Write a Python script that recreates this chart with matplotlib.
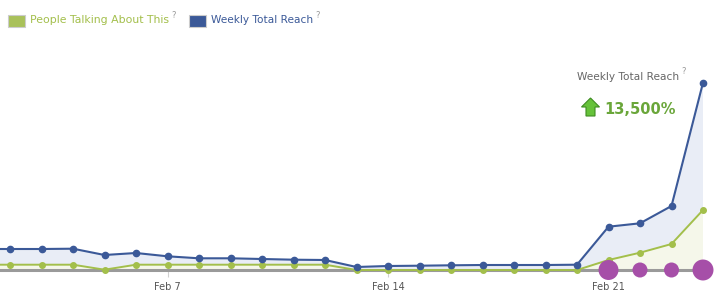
import matplotlib.pyplot as plt
from matplotlib.patches import Rectangle, Polygon

# days: index 0 = Feb 2 ... index 22 = Feb 24 (index -1 = Feb 1, just off the left edge)
days = list(range(-1, 23))
reach = [210, 210, 210, 213, 150, 170, 137, 117, 117, 110, 103, 100,
         30, 40, 43, 47, 50, 50, 50, 53, 433, 467, 640, 1873]
talking = [53, 53, 53, 53, 3, 53, 53, 53, 53, 53, 53, 53,
           0, 0, 0, 0, 0, 0, 0, 0, 100, 173, 260, 600]
post_days = [19, 20, 21, 22]
post_sizes = [207, 117, 117, 228]
tick_days = [5, 12, 19]
tick_labels = ["Feb 7", "Feb 14", "Feb 21"]

blue = "#3b5998"
green = "#a3bf4b"
W, H = 724, 295

fig = plt.figure(figsize=(7.24, 2.95), dpi=100)
ax = fig.add_axes([0, 25 / H, 1, 210 / H])
ax.set_xlim(-10 / 31.5, 714 / 31.5)
ax.set_ylim(0, 2100)

ax.fill_between(days, talking, reach, color="#e9edf6", lw=0)
ax.fill_between(days, 0, talking, color="#f5f7ea", lw=0)
ax.hlines(0, days[0], days[-1], color="#9a9a9a", lw=2.2, clip_on=False, zorder=2)
ax.plot(days, talking, color=green, lw=1.4, marker="o", ms=4, zorder=3, clip_on=False)
ax.plot(days, reach, color=blue, lw=1.5, marker="o", ms=4.5, zorder=4, clip_on=False)
ax.scatter(post_days, [0] * len(post_days), s=post_sizes, color="#a64fa8",
           zorder=5, clip_on=False, lw=0)

for s in ax.spines.values():
    s.set_visible(False)
ax.set_yticks([])
ax.set_xticks(tick_days)
ax.set_xticklabels(tick_labels)
ax.tick_params(axis="x", length=5, width=0.8, color="#d0d0d0", pad=3.5,
               labelsize=7, labelcolor="#555555")


def px(x, y):
    return x / W, 1 - y / H


def label_with_q(x, y, text, color, size, weight="normal"):
    t = fig.text(*px(x, y), text, color=color, fontsize=size, va="center",
                 ha="left", fontweight=weight)
    fig.canvas.draw()
    bb = t.get_window_extent()
    fig.text((bb.x1 + 2) / W, 1 - (y - 5) / H, "?", color="#999999",
             fontsize=6, va="center", ha="left")


# legend
fig.patches.append(Rectangle(px(8, 27), 17 / W, 12 / H, transform=fig.transFigure,
                             facecolor="#a9c15a", edgecolor="#cccccc", lw=0.8))
label_with_q(30, 20, "People Talking About This", green, 7.8)
fig.patches.append(Rectangle(px(189, 27), 17 / W, 12 / H, transform=fig.transFigure,
                             facecolor=blue, edgecolor="#cccccc", lw=0.8))
label_with_q(211, 20, "Weekly Total Reach", blue, 7.6)

# callout
label_with_q(577, 77, "Weekly Total Reach", "#666666", 7.6)
arrow = [(590.5, 98), (599.5, 107), (595, 107), (595, 116), (586, 116),
         (586, 107), (581.5, 107)]
fig.patches.append(Polygon([px(x, y) for x, y in arrow], closed=True,
                           transform=fig.transFigure, facecolor="#66c23a",
                           edgecolor="#3f8c22", lw=0.8))
fig.text(*px(604, 110), "13,500%", color="#6aa63a", fontsize=10.5,
         fontweight="bold", va="center", ha="left")

fig.savefig("out.png", dpi=100)
